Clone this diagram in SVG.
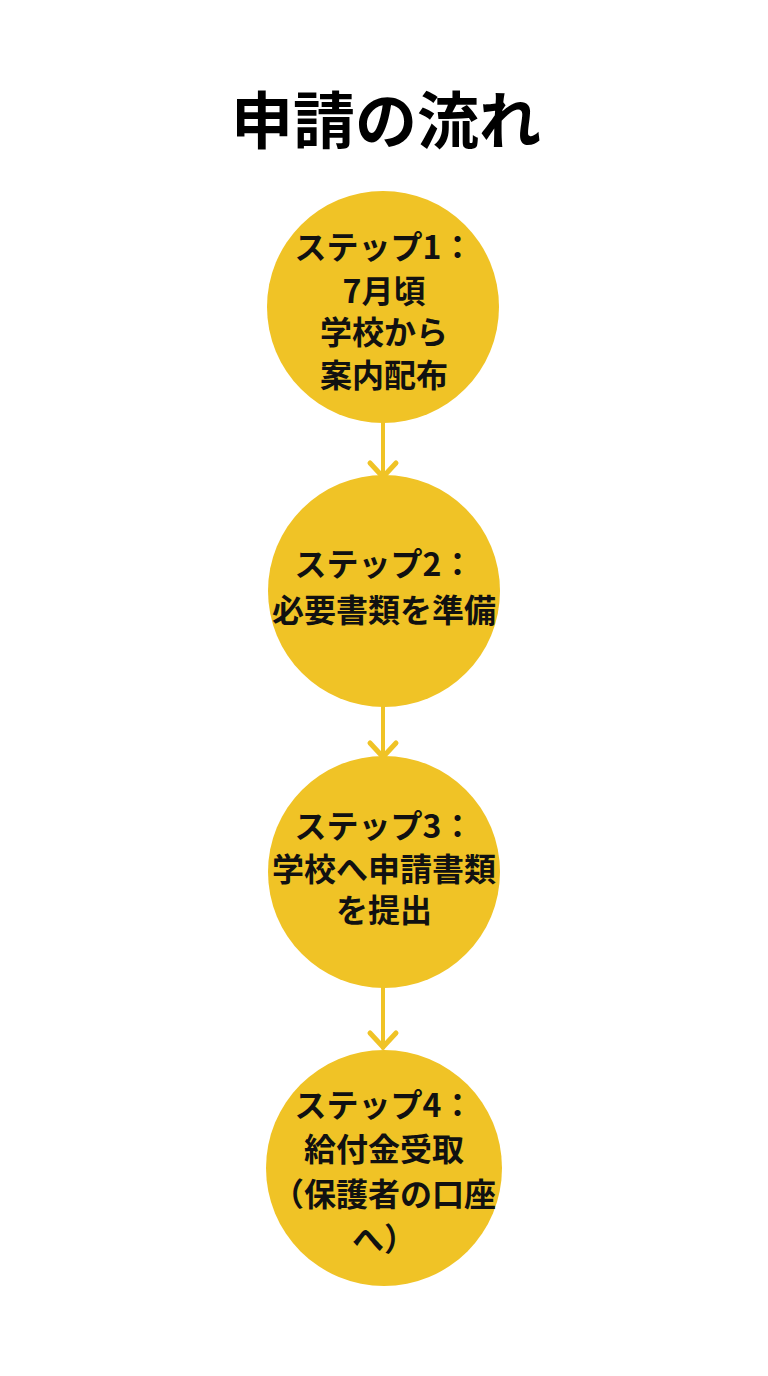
<svg xmlns="http://www.w3.org/2000/svg" width="768" height="1376" viewBox="0 0 768 1376">
<style>
.bg{fill:#ffffff}
.node{fill:#F0C326}
.t{font-family:"Noto Sans CJK JP","Noto Sans",sans-serif;font-weight:700;font-size:32px;fill:#111111;text-anchor:middle}
.title{font-family:"Noto Sans CJK JP","Noto Sans",sans-serif;font-weight:700;font-size:62px;fill:#000000;text-anchor:middle}
.edge{stroke:#F0C326;stroke-width:4;fill:none;stroke-linecap:round;stroke-linejoin:round}
.head{stroke:#F0C326;stroke-width:5;fill:none;stroke-linecap:round;stroke-linejoin:round}
</style>
<rect class="bg" x="0" y="0" width="768" height="1376"/>
<text class="title" x="386" y="144">申請の流れ</text>
<g id="connectors">
<path class="edge" d="M383 418 L383 478"/>
<path class="head" d="M370 463 L383 477 L396 463"/>
<path class="edge" d="M383 702 L383 758"/>
<path class="head" d="M370 743 L383 757 L396 743"/>
<path class="edge" d="M383 983 L383 1048"/>
<path class="head" d="M370 1033 L383 1047 L396 1033"/>
</g>
<g id="step1">
<circle class="node" cx="383" cy="307" r="116"/>
<text class="t" x="384" y="259">ステップ1：</text>
<text class="t" x="384" y="303">7月頃</text>
<text class="t" x="384" y="344">学校から</text>
<text class="t" x="384" y="387">案内配布</text>
</g>
<g id="step2">
<circle class="node" cx="384" cy="591" r="116"/>
<text class="t" x="384" y="576">ステップ2：</text>
<text class="t" x="384" y="622">必要書類を準備</text>
</g>
<g id="step3">
<circle class="node" cx="384" cy="872" r="116"/>
<text class="t" x="384" y="838">ステップ3：</text>
<text class="t" x="384" y="881">学校へ申請書類</text>
<text class="t" x="384" y="922">を提出</text>
</g>
<g id="step4">
<circle class="node" cx="384" cy="1168" r="118"/>
<text class="t" x="384" y="1117">ステップ4：</text>
<text class="t" x="384" y="1161">給付金受取</text>
<text class="t" x="384" y="1206">（保護者の口座</text>
<text class="t" x="384" y="1251">へ）</text>
</g>
</svg>
